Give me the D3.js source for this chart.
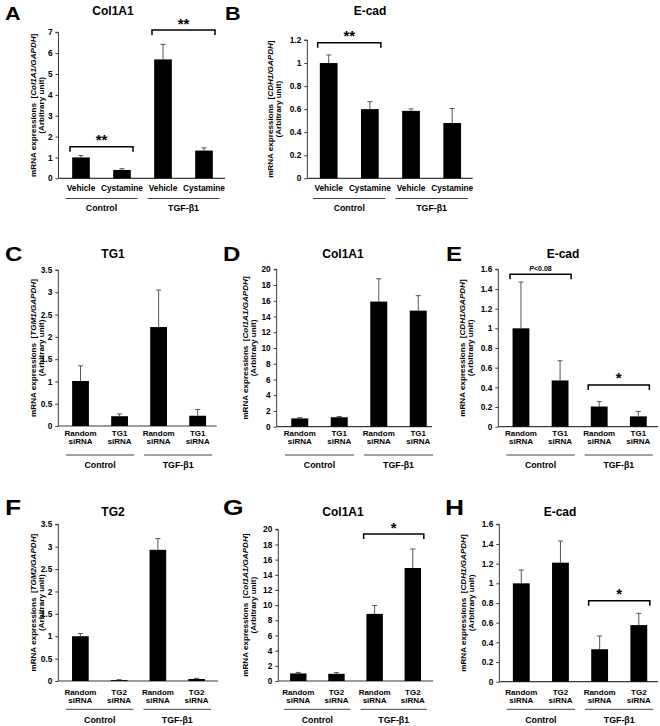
<!DOCTYPE html>
<html><head><meta charset="utf-8">
<script src="https://cdn.jsdelivr.net/npm/d3@7"></script>
<style>
body{margin:0;background:#fff}
text{font-family:"Liberation Sans",Arial,sans-serif;font-weight:bold;fill:#000}
</style>
</head><body>
<svg id="chart" width="660" height="726"></svg>
<script>
// ---------------- DATA ----------------
const panelLetters = ["A","B","C","D","E","F","G","H"];
const titles = ["Col1A1","E-cad","TG1","Col1A1","E-cad","TG2","Col1A1","E-cad"];
const yLabelGenes = ["Col1A1/GAPDH","CDH1/GAPDH","TGM1/GAPDH","Col1A1/GAPDH","CDH1/GAPDH","TGM2/GAPDH","Col1A1/GAPDH","CDH1/GAPDH"];
const groupLabels = ["Control","TGF-β1"];

const catsCys = ["Vehicle","Cystamine","Vehicle","Cystamine"];
const catsTG1 = ["Random siRNA","TG1 siRNA","Random siRNA","TG1 siRNA"];
const catsTG2 = ["Random siRNA","TG2 siRNA","Random siRNA","TG2 siRNA"];

const valuesA = [1.0, 0.4, 5.7, 1.33];   const errorsA = [0.09, 0.06, 0.72, 0.13];
const valuesB = [1.0, 0.6, 0.585, 0.48]; const errorsB = [0.07, 0.065, 0.017, 0.125];
const valuesC = [1.01, 0.22, 2.22, 0.23]; const errorsC = [0.34, 0.05, 0.83, 0.14];
const valuesD = [1.05, 1.2, 15.9, 14.75]; const errorsD = [0.1, 0.1, 2.9, 1.9];
const valuesE = [1.0, 0.47, 0.205, 0.105]; const errorsE = [0.47, 0.2, 0.05, 0.05];
const valuesF = [1.0, 0.02, 2.93, 0.045]; const errorsF = [0.06, 0.01, 0.25, 0.015];
const valuesG = [1.0, 0.95, 8.85, 14.9]; const errorsG = [0.13, 0.17, 1.1, 2.5];
const valuesH = [1.0, 1.21, 0.33, 0.575]; const errorsH = [0.135, 0.22, 0.135, 0.12];

const ticksA = [0,1,2,3,4,5,6,7];
const ticksB = [0,0.2,0.4,0.6,0.8,1,1.2];
const ticksC = [0,0.5,1,1.5,2,2.5,3,3.5];
const ticksD = [0,2,4,6,8,10,12,14,16,18,20];
const ticksE = [0,0.2,0.4,0.6,0.8,1,1.2,1.4,1.6];
const ticksF = [0,0.5,1,1.5,2,2.5,3,3.5];
const ticksG = [0,2,4,6,8,10,12,14,16,18,20];
const ticksH = [0,0.2,0.4,0.6,0.8,1,1.2,1.4,1.6];

const sigA = [{from:0,to:1,level:1.515,label:"**"},{from:2,to:3,level:7.11,label:"**"}];
const sigB = [{from:0,to:1,level:1.176,label:"**"}];
const sigC = [];
const sigD = [];
const sigE = [{from:0,to:1,level:1.55,label:"P<0.08"},{from:2,to:3,level:0.424,label:"*"}];
const sigF = [];
const sigG = [{from:2,to:3,level:19.38,label:"*"}];
const sigH = [{from:2,to:3,level:0.823,label:"*"}];

// ---------------- LAYOUT ----------------
const layout = [
  {x0:58.5, xEnd:225, bL:60.5, bR:224.5, yTop:32.3, yBot:178.3, lx:5, ly:20, ls:18, tx:113, ty:15.3, yl:-25.5, catY:191, ulY:198.5, gY:210.5},
  {x0:307.3, xEnd:472.7, bL:308.1, bR:472.8, yTop:40, yBot:178.3, lx:225, ly:20, ls:18, tx:370, ty:15.3, yl:-37, catY:191, ulY:198.5, gY:210.5},
  {x0:58.3, xEnd:216.7, bL:61, bR:217.2, yTop:270, yBot:426, lx:5, ly:261, ls:20, tx:113, ty:258.3, yl:-25, catY:435.7, ulY:455, gY:467.5},
  {x0:276.7, xEnd:432, bL:280, bR:438, yTop:269.3, yBot:426.7, lx:223, ly:261, ls:20, tx:343, ty:258.3, yl:-31.7, catY:435.7, ulY:455, gY:467.5},
  {x0:498.3, xEnd:658, bL:501.4, bR:657.9, yTop:269.3, yBot:426.7, lx:446, ly:261, ls:20, tx:563, ty:258.3, yl:-36.6, catY:435.7, ulY:455, gY:467.5},
  {x0:58.3, xEnd:218, bL:61, bR:216, yTop:524.3, yBot:681, lx:5, ly:515, ls:22, tx:113, ty:516, yl:-25, catY:694.7, ulY:709.3, gY:722.8},
  {x0:278.3, xEnd:433, bL:279.2, bR:431.9, yTop:529.3, yBot:681, lx:223, ly:515, ls:22, tx:343, ty:516, yl:-33, catY:694.7, ulY:709.3, gY:722.8},
  {x0:499.3, xEnd:658, bL:501.7, bR:658.4, yTop:524.3, yBot:681.7, lx:445, ly:515, ls:22, tx:560, ty:516, yl:-36, catY:694.7, ulY:709.3, gY:722.8}
];

const panels = [
  {cats:catsCys, values:valuesA, errors:errorsA, ticks:ticksA, sig:sigA},
  {cats:catsCys, values:valuesB, errors:errorsB, ticks:ticksB, sig:sigB},
  {cats:catsTG1, values:valuesC, errors:errorsC, ticks:ticksC, sig:sigC},
  {cats:catsTG1, values:valuesD, errors:errorsD, ticks:ticksD, sig:sigD},
  {cats:catsTG1, values:valuesE, errors:errorsE, ticks:ticksE, sig:sigE},
  {cats:catsTG2, values:valuesF, errors:errorsF, ticks:ticksF, sig:sigF},
  {cats:catsTG2, values:valuesG, errors:errorsG, ticks:ticksG, sig:sigG},
  {cats:catsTG2, values:valuesH, errors:errorsH, ticks:ticksH, sig:sigH}
];

const svg = d3.select("#chart");
const axisColor = "#3a3a3a";

panels.forEach((p, i) => {
  const L = layout[i];
  const g = svg.append("g");
  const idx = d3.range(p.values.length);
  const x = d3.scaleBand().domain(idx).range([L.bL, L.bR]).paddingInner(0.57).paddingOuter(0.285);
  const yMax = d3.max(p.ticks);
  const y = d3.scaleLinear().domain([0, yMax]).range([L.yBot, L.yTop]);

  // panel letter
  g.append("text").attr("x", L.lx).attr("y", L.ly).attr("font-size", L.ls)
    .attr("transform", `translate(${L.lx},0) scale(1.2,1) translate(${-L.lx},0)`)
    .text(panelLetters[i]);
  // title
  g.append("text").attr("x", L.tx).attr("y", L.ty).attr("font-size", 12)
    .attr("text-anchor", "middle").text(titles[i]);

  // y axis
  const yAxis = d3.axisLeft(y).tickValues(p.ticks).tickSize(3).tickPadding(3)
    .tickFormat(d3.format("~g"));
  const ay = g.append("g").attr("transform", `translate(${L.x0},0)`).call(yAxis);
  ay.select(".domain").attr("stroke", axisColor).attr("d", `M-3,${L.yTop}H0V${L.yBot}`);
  ay.selectAll(".tick line").attr("stroke", axisColor);
  ay.selectAll(".tick text").attr("font-size", 8.3).attr("font-family", "Liberation Sans, Arial, sans-serif")
    .attr("font-weight", "bold").attr("fill", "#000");

  // x axis line
  g.append("line").attr("x1", L.x0).attr("x2", L.xEnd).attr("y1", L.yBot).attr("y2", L.yBot)
    .attr("stroke", axisColor).attr("stroke-width", 1.2);

  // y label
  const midY = (L.yTop + L.yBot) / 2;
  const yl = g.append("text").attr("transform", `translate(${L.x0 + L.yl},${midY}) rotate(-90)`)
    .attr("text-anchor", "middle").attr("dominant-baseline", "central").attr("font-size", 8.1);
  yl.append("tspan").text("mRNA expressions  [").attr("xml:space", "preserve");
  yl.append("tspan").attr("font-style", "italic").text(yLabelGenes[i]);
  yl.append("tspan").text("]");
  g.append("text").attr("transform", `translate(${L.x0 + L.yl + 8.5},${midY}) rotate(-90)`)
    .attr("text-anchor", "middle").attr("dominant-baseline", "central").attr("font-size", 8.1)
    .text("(Arbitrary unit)");

  // error bars (upper only)
  idx.forEach(k => {
    const cx = x(k) + x.bandwidth() / 2;
    const top = y(p.values[k] + p.errors[k]);
    g.append("line").attr("x1", cx).attr("x2", cx).attr("y1", y(p.values[k])).attr("y2", top)
      .attr("stroke", "#555").attr("stroke-width", 1);
    g.append("line").attr("x1", cx - 2.5).attr("x2", cx + 2.5).attr("y1", top).attr("y2", top)
      .attr("stroke", "#555").attr("stroke-width", 1);
  });
  // bars
  g.selectAll("rect.bar").data(idx).enter().append("rect").attr("class", "bar")
    .attr("x", k => x(k)).attr("width", x.bandwidth())
    .attr("y", k => y(p.values[k])).attr("height", k => L.yBot - y(p.values[k]))
    .attr("fill", "#000");

  // category labels
  idx.forEach(k => {
    const cx = x(k) + x.bandwidth() / 2;
    const lines = p.cats[k].split(" ");
    lines.forEach((ln, j) => {
      g.append("text").attr("x", cx).attr("y", L.catY + j * 8).attr("text-anchor", "middle")
        .attr("font-size", lines.length > 1 ? 8 : 8.3).text(ln);
    });
  });

  // group underlines and labels
  groupLabels.forEach((gl, j) => {
    const a = x(2 * j) - x.step() * x.paddingInner() / 2 + 5;
    const b = x(2 * j + 1) + x.bandwidth() + x.step() * x.paddingInner() / 2 - 5;
    g.append("line").attr("x1", a).attr("x2", b).attr("y1", L.ulY).attr("y2", L.ulY)
      .attr("stroke", "#444").attr("stroke-width", 1);
    g.append("text").attr("x", (a + b) / 2).attr("y", L.gY).attr("text-anchor", "middle")
      .attr("font-size", 8.8).text(gl);
  });

  // significance brackets
  p.sig.forEach(s => {
    const a = x(s.from) + x.bandwidth() / 2 - 11;
    const b = x(s.to) + x.bandwidth() / 2 + 11;
    const yy = y(s.level);
    g.append("path").attr("d", `M${a},${yy + 5}V${yy}H${b}V${yy + 5}`)
      .attr("fill", "none").attr("stroke", "#000").attr("stroke-width", 1.5);
    const t = g.append("text").attr("x", (a + b) / 2).attr("text-anchor", "middle");
    if (s.label.startsWith("P")) {
      t.attr("y", yy - 3).attr("font-size", 7).attr("font-weight", "normal");
      t.append("tspan").attr("font-style", "italic").text("P");
      t.append("tspan").text(s.label.slice(1));
    } else {
      t.attr("y", yy - 1.5).attr("font-size", 15).text(s.label);
    }
  });
});
</script>
</body></html>
